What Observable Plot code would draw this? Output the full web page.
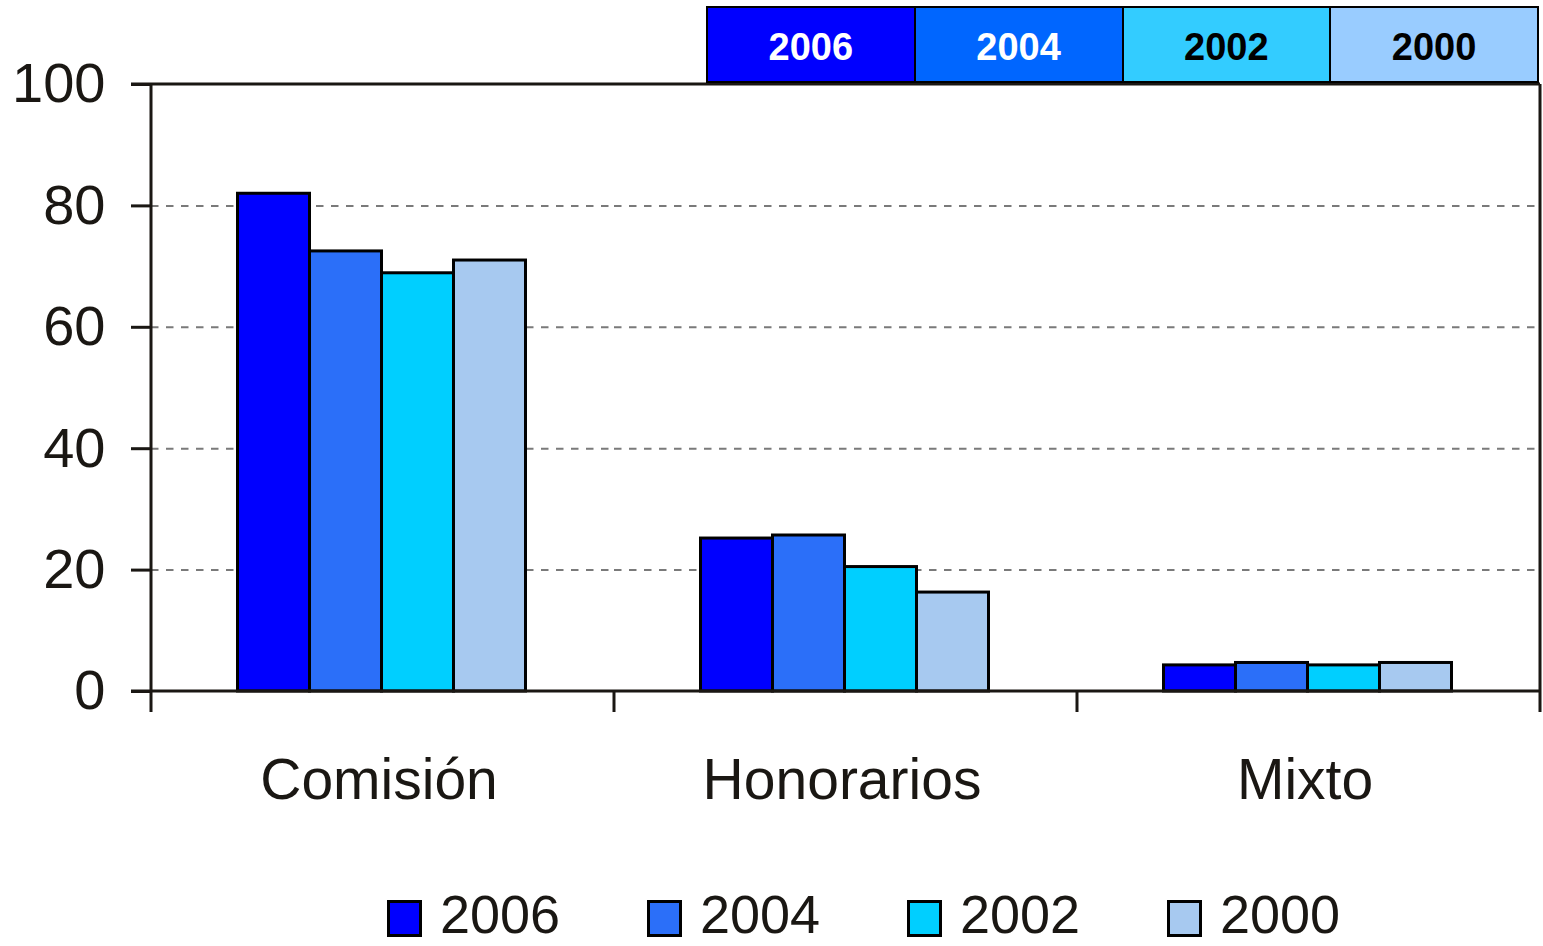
<!DOCTYPE html>
<html>
<head>
<meta charset="utf-8">
<script src="https://cdn.jsdelivr.net/npm/d3@7"></script>
<script src="https://cdn.jsdelivr.net/npm/@observablehq/plot@0.6"></script>
<style>
  html, body { margin: 0; padding: 0; background: #fff; }
  body { font-family: "Liberation Sans", Arial, sans-serif; color: #1a1713; }
  #wrap { position: relative; width: 1543px; height: 946px; overflow: hidden; }
  #chart { position: absolute; left: 0; top: 0; }
  #toplegend { position: absolute; left: 706px; top: 6px; width: 833px; height: 77px; display: flex; box-sizing: border-box; border: 2.5px solid #000; }
  #toplegend div { flex: 1; display: flex; align-items: center; justify-content: center; font-weight: bold; font-size: 38px; box-sizing: border-box; padding-top: 6px; }
  #toplegend div + div { border-left: 2.5px solid #000; }
  #botlegend { position: absolute; left: 387px; top: 888px; height: 52px; display: flex; align-items: center; }
  #botlegend .item { width: 260px; height: 52px; display: flex; align-items: center; }
  #botlegend .sw { width: 35px; height: 37px; box-sizing: border-box; border: 3px solid #000; margin-right: 18px; margin-top: 9px; }
  #botlegend .lab { font-size: 54px; line-height: 52px; }
</style>
</head>
<body>
<div id="wrap">
  <div id="chart"></div>
  <div id="toplegend"></div>
  <div id="botlegend"></div>
</div>
<script>
const categories = ["Comisión", "Honorarios", "Mixto"];
const years = ["2006", "2004", "2002", "2000"];
const v2006 = [82.0, 25.2, 4.3];
const v2004 = [72.5, 25.7, 4.7];
const v2002 = [68.9, 20.5, 4.3];
const v2000 = [71.0, 16.3, 4.7];
const yTicks = [0, 20, 40, 60, 80, 100];
const barColors = ["#0000FF", "#2B6FF9", "#00CFFF", "#A7C9F0"];
const headerColors = ["#0000FF", "#0066FF", "#33CCFF", "#99CCFF"];
const headerText = ["#FFFFFF", "#FFFFFF", "#000000", "#000000"];

const series = [v2006, v2004, v2002, v2000];
const data = [];
categories.forEach((c, i) => years.forEach((y, j) => data.push({cat: c, year: y, value: series[j][i]})));

const ink = "#1a1713";

const chart = Plot.plot({
  width: 1543,
  height: 946,
  marginLeft: 150,
  marginRight: 3,
  marginTop: 84,
  marginBottom: 255,
  style: {fontFamily: '"Liberation Sans", Arial, sans-serif', color: ink, background: "#fff"},
  fx: {domain: categories, padding: 0, label: null},
  x: {domain: years, paddingInner: 0, paddingOuter: 1.2, axis: null},
  y: {domain: [0, 100], label: null},
  color: {domain: years, range: barColors},
  marks: [
    Plot.gridY(yTicks.slice(1, -1), {stroke: "#7a7a7a", strokeOpacity: 1, strokeWidth: 2, strokeDasharray: "7.5,7.5"}),
    Plot.barY(data, {fx: "cat", x: "year", y: "value", fill: "year", stroke: "#000", strokeWidth: 3, dx: -1.5}),
    Plot.axisY({ticks: yTicks, tickSize: 20, tickPadding: 26, fontSize: 56, label: null, strokeWidth: 3}),
    Plot.axisFx({anchor: "bottom", tickSize: 0, tickPadding: 67, fontSize: 57, label: null, dx: -4})
  ]
});
document.getElementById("chart").appendChild(chart);

// Frame lines and category separator ticks, positioned from the chart's scales
const yScale = chart.scale("y");
const fxScale = chart.scale("fx");
const yZero = yScale.apply(0), yHundred = yScale.apply(100);
const xLeftEdge = fxScale.apply(categories[0]);
const xRightEdge = fxScale.apply(categories[categories.length - 1]) + fxScale.bandwidth;
const svgSel = d3.select(chart.tagName.toLowerCase() === "svg" ? chart : chart.querySelector("svg"));
const frameG = svgSel.append("g").attr("stroke", ink).attr("stroke-width", 3).attr("fill", "none");
const tickLen = 21;
frameG.append("line").attr("x1", xLeftEdge - 20).attr("x2", xRightEdge).attr("y1", yZero).attr("y2", yZero);
frameG.append("line").attr("x1", xLeftEdge - 20).attr("x2", xRightEdge).attr("y1", yHundred).attr("y2", yHundred);
frameG.append("line").attr("x1", xLeftEdge).attr("x2", xLeftEdge).attr("y1", yHundred).attr("y2", yZero + tickLen);
frameG.append("line").attr("x1", xRightEdge).attr("x2", xRightEdge).attr("y1", yHundred).attr("y2", yZero + tickLen);
categories.slice(1).forEach(c => {
  const xc = fxScale.apply(c);
  frameG.append("line").attr("x1", xc).attr("x2", xc).attr("y1", yZero).attr("y2", yZero + tickLen);
});

// Top header legend
const headerSel = d3.select("#toplegend");
years.forEach((y, j) => {
  headerSel.append("div").style("background", headerColors[j]).style("color", headerText[j]).text(y);
});

// Bottom legend
const botSel = d3.select("#botlegend");
years.forEach((y, j) => {
  const it = botSel.append("div").attr("class", "item");
  it.append("div").attr("class", "sw").style("background", barColors[j]);
  it.append("div").attr("class", "lab").text(y);
});
</script>
</body>
</html>
